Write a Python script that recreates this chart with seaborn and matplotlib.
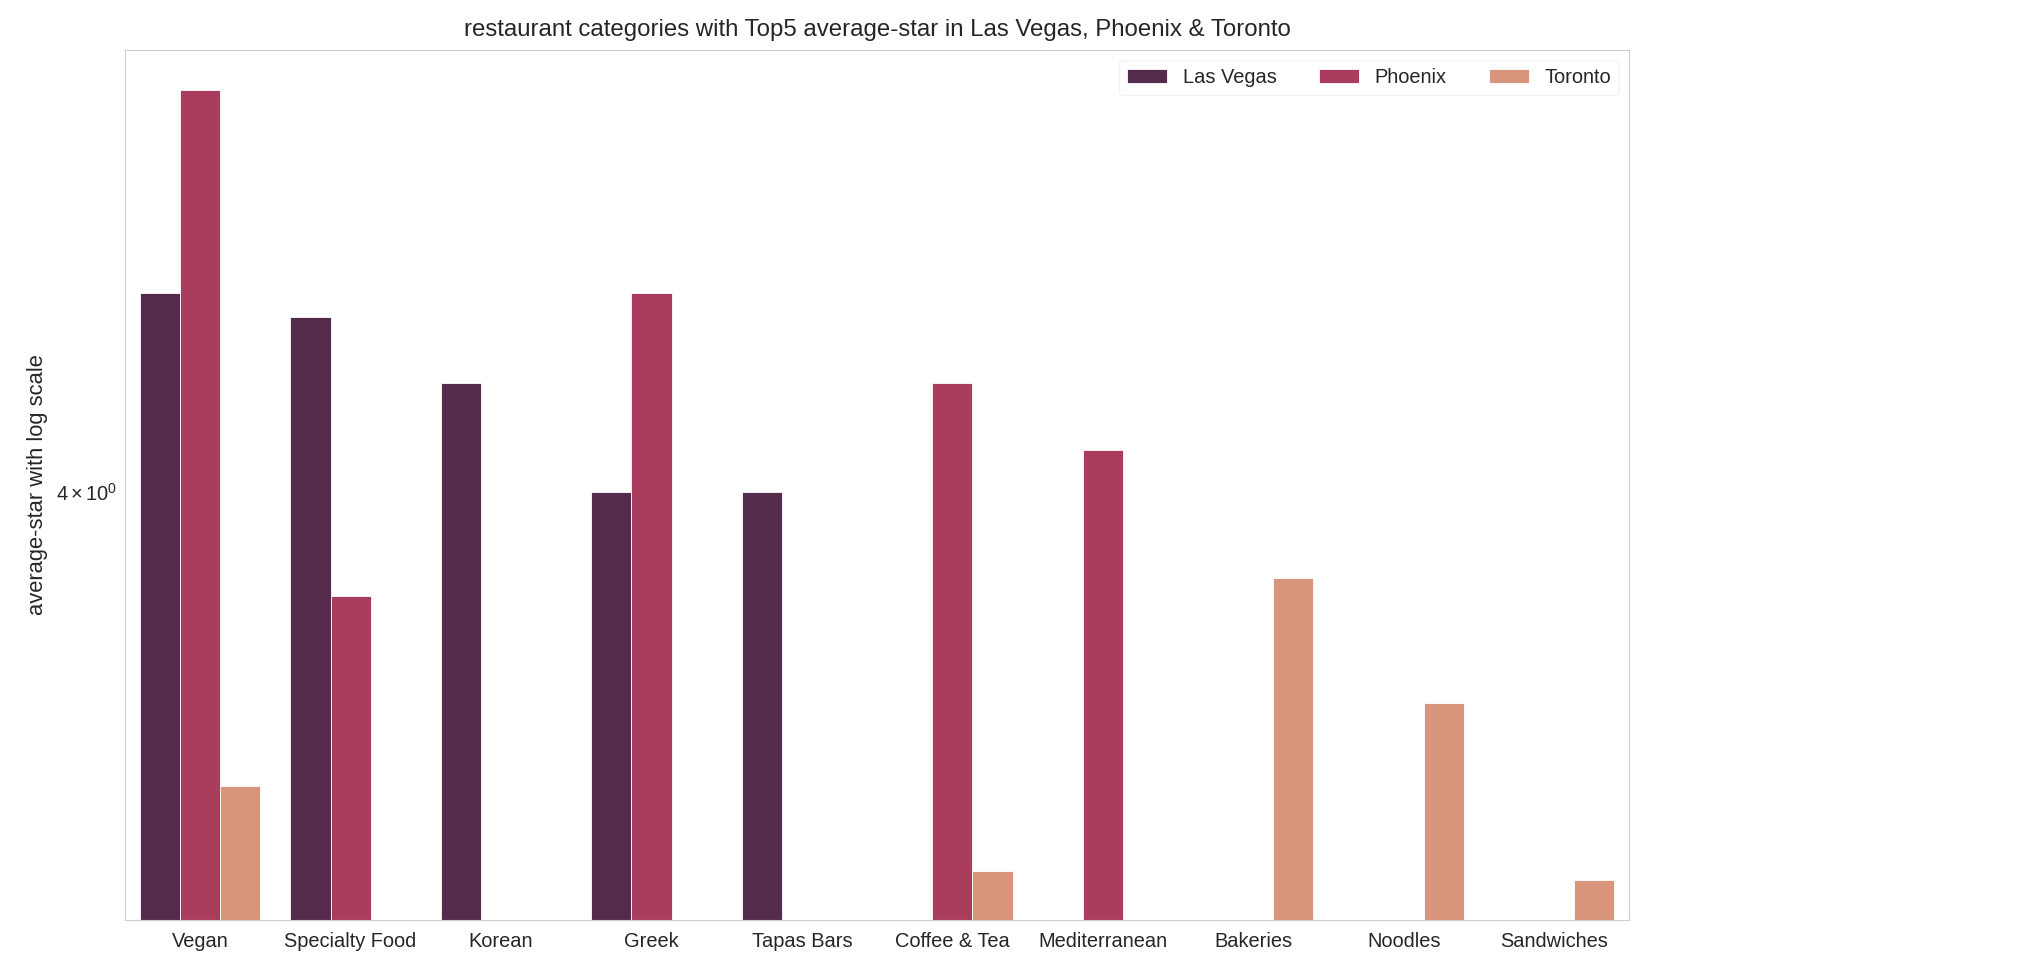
import numpy as np
import pandas as pd
import matplotlib
matplotlib.use("Agg")
import matplotlib.pyplot as plt
import matplotlib.ticker as mticker
import seaborn as sns

categories = ['Vegan', 'Specialty Food', 'Korean', 'Greek', 'Tapas Bars',
              'Coffee & Tea', 'Mediterranean', 'Bakeries', 'Noodles', 'Sandwiches']
cities = ['Las Vegas', 'Phoenix', 'Toronto']

# average stars per category (NaN = not in that city's top list)
las_vegas = [4.24, 4.21, 4.13, 4.00, 4.00, np.nan, np.nan, np.nan, np.nan, np.nan]
phoenix = [4.50, 3.88, np.nan, 4.24, np.nan, 4.13, 4.05, np.nan, np.nan, np.nan]
toronto = [3.67, np.nan, np.nan, np.nan, np.nan, 3.58, np.nan, 3.90, 3.76, 3.57]

rows = []
for city, vals in zip(cities, [las_vegas, phoenix, toronto]):
    for cat, v in zip(categories, vals):
        if not np.isnan(v):
            rows.append({'category': cat, 'city': city, 'stars': v})
df = pd.DataFrame(rows)

sns.set_style('whitegrid')
plt.rcParams['font.family'] = ['Liberation Sans', 'DejaVu Sans']
plt.rcParams['mathtext.fontset'] = 'custom'
plt.rcParams['mathtext.rm'] = 'Liberation Sans'
plt.rcParams['mathtext.it'] = 'Liberation Sans:italic'
plt.rcParams['mathtext.bf'] = 'Liberation Sans:bold'

fig = plt.figure(figsize=(20.18, 9.74), dpi=100)
ax = fig.add_axes([0.0619, 0.0555, 0.7455, 0.893])

sns.barplot(data=df, x='category', y='stars', hue='city', order=categories,
            hue_order=cities, palette='rocket', saturation=0.62,
            edgecolor='white', linewidth=0.6, ax=ax)
ax.set_yscale('log')

lo, hi = df['stars'].min(), df['stars'].max()
span = np.log10(hi / lo)
ax.set_ylim(lo * 10 ** (-0.05 * span), hi * 10 ** (0.05 * span))
ax.set_xlim(-0.5, len(categories) - 0.5)

# classic log minor ticks (2..9 x 10^k) without the auto-linear fallback
ax.yaxis.set_minor_locator(mticker.FixedLocator(np.arange(2, 10)))
ax.yaxis.set_minor_formatter(mticker.LogFormatterSciNotation(labelOnlyBase=False))

ax.set_xlabel('')
ax.set_ylabel('average-star with log scale', fontsize=15.8, color='.15', labelpad=6)
ax.set_title('restaurant categories with Top5 average-star in Las Vegas, Phoenix & Toronto',
             fontsize=17.3, color='.15', pad=10)
ax.tick_params(axis='x', labelsize=14.4, colors='.15', pad=5)
ax.tick_params(axis='y', which='both', labelsize=14.4, colors='.15')
leg = ax.legend(loc='upper right', ncol=3, fontsize=14.4, columnspacing=2.1)
leg.get_frame().set_edgecolor('0.94')

plt.savefig('out.png', dpi=100)
